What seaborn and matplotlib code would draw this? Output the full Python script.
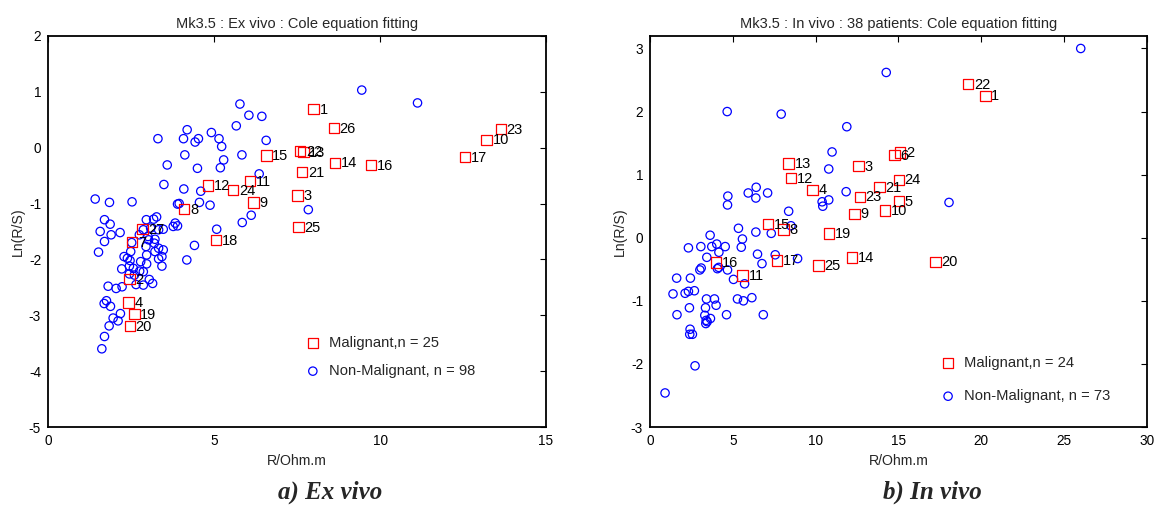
import numpy as np
import pandas as pd
import matplotlib
matplotlib.use("Agg")
import matplotlib.pyplot as plt
import seaborn as sns

# ---------------- Ex vivo data ----------------
ex_mal_id = ["1", "26", "22", "13", "15", "21", "14", "16", "17", "10", "23", "12", "24",
             "11", "9", "3", "25", "18", "8", "27", "7", "2", "4", "19", "20"]
ex_mal_r = [8.00, 8.61, 7.59, 7.69, 6.58, 7.65, 8.64, 9.73, 12.56, 13.21, 13.64, 4.81, 5.57,
            6.09, 6.19, 7.51, 7.55, 5.05, 4.10, 2.84, 2.53, 2.45, 2.42, 2.60, 2.46]
ex_mal_ln = [0.69, 0.35, -0.06, -0.08, -0.14, -0.44, -0.27, -0.31, -0.17, 0.14, 0.33, -0.68, -0.76,
             -0.60, -0.98, -0.86, -1.42, -1.65, -1.10, -1.46, -1.69, -2.35, -2.77, -2.98, -3.19]

ex_non_r = [9.45, 11.13, 5.78, 6.05, 6.44, 5.67, 6.57, 3.31, 4.08, 4.19, 4.43, 4.53, 4.92, 5.15,
            5.23, 4.12, 5.29, 5.19, 5.84, 3.59, 4.50, 6.36, 3.49, 4.09, 4.60, 3.95, 4.56, 4.88,
            1.85, 2.53, 1.42, 6.12, 5.85, 7.84, 5.08, 4.41, 4.18, 3.90, 3.83, 3.90, 3.77,
            1.70, 1.87, 1.57, 1.90, 2.17, 1.70, 1.52, 2.96, 3.18, 3.27, 3.09, 3.33, 3.47, 3.03,
            2.95, 3.20, 3.33, 3.22, 3.47, 3.33, 3.43, 3.43, 2.97, 2.97, 2.79, 2.87, 3.05, 3.15,
            2.49, 2.29, 2.39, 2.47, 2.45, 2.57, 2.22, 2.45, 2.60, 2.76, 2.65, 2.87, 1.81, 2.05,
            2.23, 1.76, 1.69, 1.88, 2.18, 1.96, 2.11, 1.84, 1.70, 1.62, 2.75, 3.01, 2.87, 2.52,
            3.22]
ex_non_ln = [1.03, 0.80, 0.78, 0.58, 0.56, 0.39, 0.13, 0.16, 0.16, 0.32, 0.10, 0.16, 0.27, 0.16,
             0.02, -0.13, -0.22, -0.36, -0.13, -0.31, -0.37, -0.47, -0.66, -0.74, -0.78, -1.00,
             -0.98, -1.03, -0.98, -0.97, -0.92, -1.21, -1.34, -1.11, -1.46, -1.75, -2.01, -1.01,
             -1.35, -1.40, -1.41, -1.29, -1.37, -1.50, -1.56, -1.52, -1.68, -1.87, -1.29, -1.28,
             -1.24, -1.44, -1.47, -1.46, -1.65, -1.77, -1.71, -1.80, -1.86, -1.83, -1.99, -1.95,
             -2.12, -1.92, -2.08, -2.04, -2.22, -2.36, -2.43, -1.86, -1.95, -1.98, -2.02, -2.12,
             -2.16, -2.17, -2.26, -2.28, -2.21, -2.45, -2.46, -2.48, -2.52, -2.49, -2.74, -2.79,
             -2.84, -2.97, -3.05, -3.10, -3.19, -3.38, -3.60, -1.56, -1.59, -1.47, -1.70, -1.64]

# ---------------- In vivo data ----------------
in_mal_id = ["22", "1", "2", "6", "13", "3", "12", "4", "24", "21", "23", "5", "10", "9",
             "15", "8", "19", "16", "11", "17", "25", "14", "20"]
in_mal_r = [19.20, 20.25, 15.10, 14.76, 8.37, 12.58, 8.51, 9.82, 15.02, 13.85, 12.66, 15.02,
            14.20, 12.34, 7.12, 8.07, 10.79, 3.97, 5.59, 7.66, 10.16, 12.20, 17.24]
in_mal_ln = [2.44, 2.25, 1.35, 1.31, 1.18, 1.14, 0.95, 0.76, 0.92, 0.80, 0.65, 0.58,
             0.43, 0.38, 0.22, 0.13, 0.07, -0.39, -0.60, -0.36, -0.44, -0.31, -0.38]

in_non_r = [26.0, 14.26, 4.66, 7.92, 11.88, 10.99, 10.79, 11.84, 10.39, 10.79, 10.43, 8.37,
            4.70, 4.68, 5.93, 6.41, 6.39, 7.10, 18.05, 5.34, 5.58, 6.39, 7.32, 8.51, 3.63,
            2.32, 3.07, 3.73, 4.03, 4.16, 4.54, 3.43, 5.51, 6.49, 6.76, 7.56, 4.07, 4.15, 4.68,
            3.01, 3.09, 5.04, 5.71, 1.61, 2.44, 1.39, 2.12, 2.32, 2.68, 3.41, 3.89, 3.99, 3.35,
            2.38, 5.28, 5.64, 6.15, 1.63, 4.62, 6.84, 3.31, 3.39, 3.65, 3.37, 3.45, 2.42, 2.40,
            2.56, 2.72, 0.91, 8.91]
in_non_ln = [3.00, 2.62, 2.00, 1.96, 1.76, 1.36, 1.09, 0.73, 0.57, 0.60, 0.50, 0.42,
             0.66, 0.52, 0.71, 0.80, 0.63, 0.71, 0.56, 0.15, -0.02, 0.09, 0.07, 0.19, 0.04,
             -0.16, -0.14, -0.14, -0.10, -0.23, -0.14, -0.31, -0.15, -0.26, -0.41, -0.27, -0.49,
             -0.47, -0.51, -0.51, -0.48, -0.66, -0.73, -0.64, -0.64, -0.89, -0.88, -0.85, -0.84,
             -0.97, -0.97, -1.07, -1.11, -1.11, -0.97, -1.00, -0.95, -1.22, -1.22, -1.22, -1.23,
             -1.31, -1.28, -1.36, -1.33, -1.45, -1.53, -1.53, -2.03, -2.46, -0.33]

titles = ["Mk3.5 : Ex vivo : Cole equation fitting",
          "Mk3.5 : In vivo : 38 patients: Cole equation fitting"]
captions = ["a) Ex vivo", "b) In vivo"]
legend_mal = ["Malignant,n = 25", "Malignant,n = 24"]
legend_non = ["Non-Malignant, n = 98", "Non-Malignant, n = 73"]

sns.set_theme(style="white")
plt.rcParams["font.family"] = ["Liberation Sans", "DejaVu Sans"]
plt.rcParams["axes.unicode_minus"] = False

fig = plt.figure(figsize=(11.58, 5.08), dpi=100)
ax1 = fig.add_axes([0.0415, 0.1594, 0.430, 0.770])
ax2 = fig.add_axes([0.5613, 0.1594, 0.4292, 0.770])

panels = [
    (ax1, ex_mal_id, ex_mal_r, ex_mal_ln, ex_non_r, ex_non_ln, (0, 15), (-5, 2),
     [0, 5, 10, 15], list(range(-5, 3)), (0.514, 0.179, 0.95)),
    (ax2, in_mal_id, in_mal_r, in_mal_ln, in_non_r, in_non_ln, (0, 30), (-3, 3.2),
     [0, 5, 10, 15, 20, 25, 30], list(range(-3, 4)), (0.582, 0.1215, 1.3)),
]

for i, (ax, mid, mr, mln, nr, nln, xl, yl, xt, yt, leg) in enumerate(panels):
    mal = pd.DataFrame({"R": mr, "Ln": mln, "id": mid})
    non = pd.DataFrame({"R": nr, "Ln": nln})
    sns.scatterplot(data=non, x="R", y="Ln", marker="o", s=36, facecolors="none",
                    edgecolors="#0000ff", linewidths=0.9, ax=ax, label=legend_non[i], zorder=3)
    sns.scatterplot(data=mal, x="R", y="Ln", marker="s", s=56, facecolors="none",
                    edgecolors="#ff0000", linewidths=0.9, ax=ax, label=legend_mal[i], zorder=4)
    for _, row in mal.iterrows():
        ax.annotate(row["id"], (row["R"], row["Ln"]), xytext=(4.2, -0.5),
                    textcoords="offset points", ha="left", va="center",
                    fontsize=10.5, color="black", zorder=5)
    ax.set_xlim(*xl)
    ax.set_ylim(*yl)
    ax.set_xticks(xt)
    ax.set_yticks(yt)
    ax.set_xlabel("R/Ohm.m", fontsize=10.2, labelpad=4)
    ax.set_ylabel("Ln(R/S)", fontsize=10.2, labelpad=3)
    ax.set_title(titles[i], fontsize=10.5, pad=6)
    ax.tick_params(direction="in", top=True, right=True, length=4, width=0.8,
                   labelsize=9.8, colors="black", pad=5)
    for sp in ax.spines.values():
        sp.set_color("black")
        sp.set_linewidth(1.3)
    ax.grid(False)
    handles, labels = ax.get_legend_handles_labels()
    order = [labels.index(legend_mal[i]), labels.index(legend_non[i])]
    ax.legend([handles[k] for k in order], [labels[k] for k in order],
              loc="center left", bbox_to_anchor=(leg[0], leg[1]),
              frameon=False, fontsize=10.6, handlelength=1.2, handletextpad=0.5,
              labelspacing=leg[2], borderpad=0, borderaxespad=0)
    pos = ax.get_position()
    fig.text(pos.x0 + pos.width / 2 + 0.029, 0.030, captions[i], ha="center", va="center",
             fontsize=18, fontweight="bold", fontstyle="italic",
             family=["Liberation Serif", "DejaVu Serif"])

fig.savefig("out.png", dpi=100)
